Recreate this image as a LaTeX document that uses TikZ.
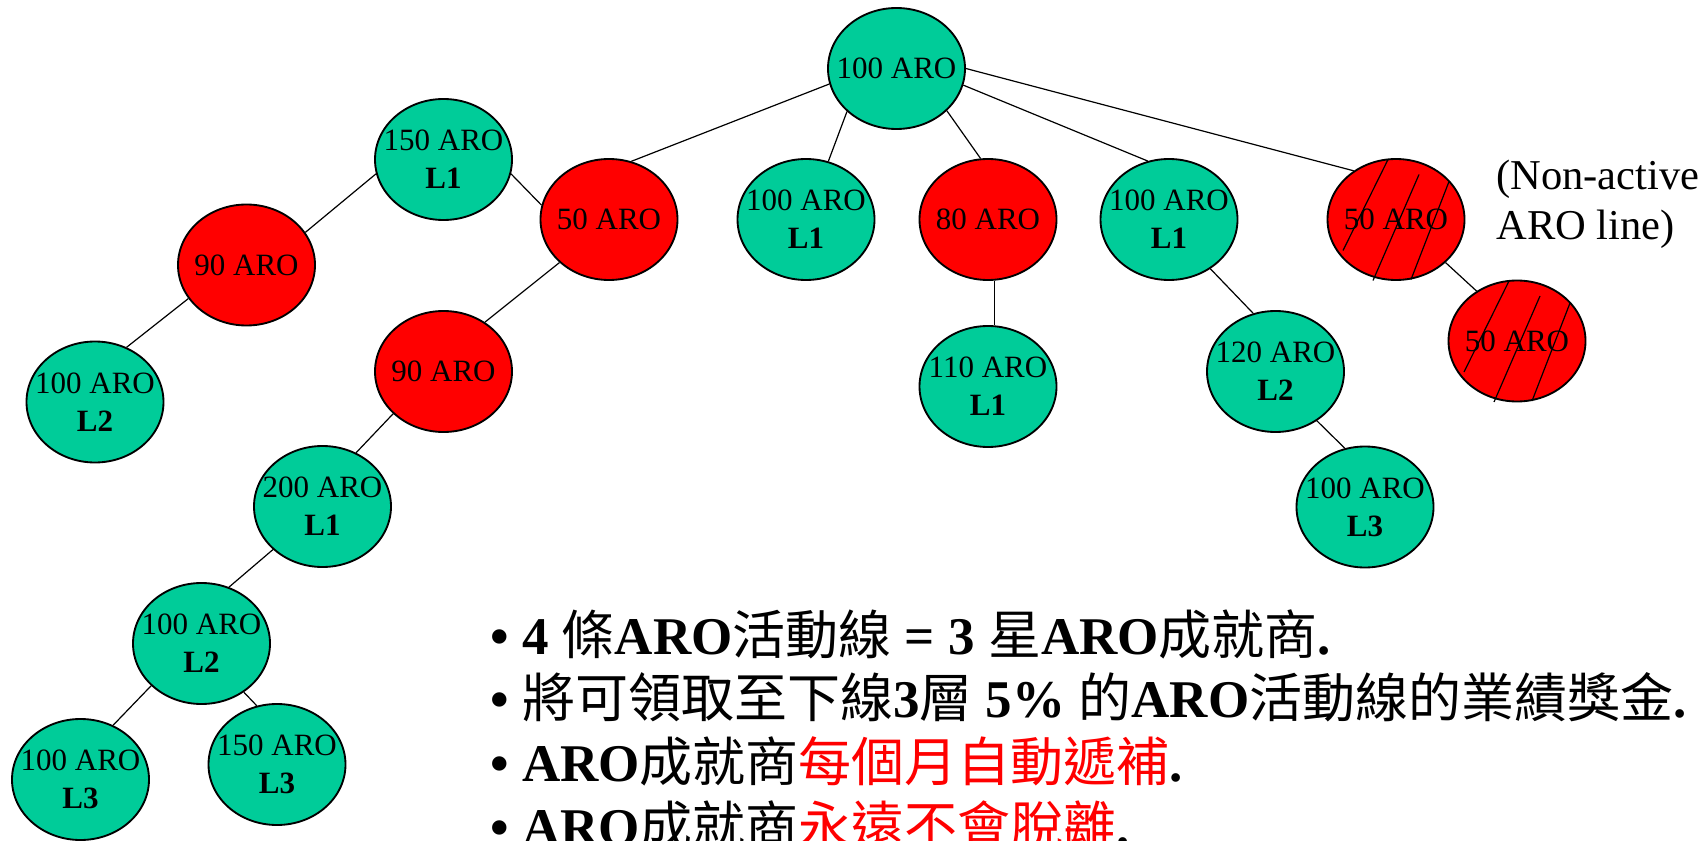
\documentclass[tikz,border=0pt]{standalone}
\usepackage{fontspec}
\setmainfont{Liberation Serif}
\newfontfamily\cjk{Noto Sans CJK TC}
\usetikzlibrary{shapes.geometric}

\definecolor{aroGreen}{RGB}{0,204,153}
\definecolor{aroRed}{RGB}{255,0,0}

\newcommand{\zh}[1]{{\cjk #1}}
\newcommand{\redzh}[1]{{\color{aroRed}\cjk #1}}

\tikzset{
  aronode/.style={ellipse, draw=black, line width=1.4pt, inner xsep=-12pt, inner ysep=0pt,
    minimum width=102.75pt, minimum height=90.75pt, align=center,
    font=\fontsize{23.25}{28.7}\selectfont},
  activenode/.style={aronode, fill=aroGreen},
  redNode/.style={aronode, fill=aroRed},
  link/.style={line width=0.9pt},
  hatchline/.style={line width=0.9pt},
  bullettext/.style={anchor=base west, inner sep=0pt, font=\fontsize{39.75}{47.7}\selectfont},
  notetext/.style={anchor=base west, inner sep=0pt, font=\fontsize{31.9}{37.5}\selectfont},
}

\begin{document}
\begin{tikzpicture}[x=0.75pt,y=0.75pt,yscale=-1,xscale=1]
\useasboundingbox (0,0) rectangle (1708,841);

%Shape: Ellipse
\node[activenode] (root) at (896.5,68.5) {100 ARO};
\node[activenode] (n150) at (443.5,159.5) {150 ARO\\\textbf{L1}};
\node[redNode] (n90a) at (246.5,265) {90 ARO};
\node[activenode] (n100a) at (95,402) {100 ARO\\\textbf{L2}};
\node[redNode] (n50) at (609,219.5) {50 ARO};
\node[redNode] (n90b) at (443.5,371.5) {90 ARO};
\node[activenode] (n100b) at (806,219.5) {100 ARO\\\textbf{L1}};
\node[redNode] (n80) at (988,219.5) {80 ARO};
\node[activenode] (n100c) at (1169,219.5) {100 ARO\\\textbf{L1}};
\node[redNode] (n50x) at (1396,219.5) {50 ARO};
\node[activenode] (n110) at (988,386.5) {110 ARO\\\textbf{L1}};
\node[activenode] (n120) at (1275.5,371.5) {120 ARO\\\textbf{L2}};
\node[redNode] (n50y) at (1517,341) {50 ARO};
\node[activenode] (n100d) at (1365,507) {100 ARO\\\textbf{L3}};
\node[activenode] (n200) at (322.5,506.5) {200 ARO\\\textbf{L1}};
\node[activenode] (n100e) at (201.5,643.5) {100 ARO\\\textbf{L2}};
\node[activenode] (n100f) at (80.5,779.5) {100 ARO\\\textbf{L3}};
\node[activenode] (n150b) at (277,764.5) {150 ARO\\\textbf{L3}};

%Straight Lines
\draw[link] (root.193) -- (n50.69);
\draw[link] (root.221) -- (n100b.69);
\draw[link] (root.320) -- (n80.97);
\draw[link] (root.346) -- (n100c.110);
\draw[link] (root.0) -- (n50x.131);
\draw[link] (n150.192) -- (n90a.29);
\draw[link] (n150.348) -- (n50.168);
\draw[link] (n90a.210) -- (n100a.60);
\draw[link] (n50.221) -- (n90b.50);
\draw[link] (n90b.220) -- (n200.58);
\draw[link] (n200.221) -- (n100e.64);
\draw[link] (n100e.220) -- (n100f.59);
\draw[link] (n100e.311) -- (n150b.109);
\draw[link] (n80.-84) -- (n110.84);
\draw[link] (n100c.310) -- (n120.111);
\draw[link] (n120.310) -- (n100d.109);
\draw[link] (n50x.319) -- (n50y.129);

%Hatch: non-active line
\foreach \nd in {n50x,n50y}{
  \begin{scope}[shift={(\nd.center)}]
    \draw[hatchline] (-8,-60) -- (-53,31);
    \draw[hatchline] (23,-45) -- (-23,61);
    \draw[hatchline] (53,-38) -- (15,60);
  \end{scope}
}

% Text Node
\node[notetext] (note1) at (1496,190) {(Non-active};
\node[notetext] (note2) at (1496,240) {ARO line)};

% Text Node
\node[bullettext] (line1) at (490,654) {\textbf{• 4 }\zh{條}\textbf{ARO}\zh{活動線}\textbf{ = 3 }\zh{星}\textbf{ARO}\zh{成就商}\textbf{.}};
\node[bullettext] (line2) at (490,717.7) {\textbf{• }\zh{將可領取至下線}\textbf{3}\zh{層}\textbf{ 5\% }\zh{的}\textbf{ARO}\zh{活動線的業績獎金}\textbf{.}};
\node[bullettext] (line3) at (490,781.4) {\textbf{• ARO}\zh{成就商}\redzh{每個月自動遞補}\textbf{.}};
\node[bullettext] (line4) at (490,845.1) {\textbf{• ARO}\zh{成就商}\redzh{永遠不會脫離}\textbf{.}};

\end{tikzpicture}
\end{document}
